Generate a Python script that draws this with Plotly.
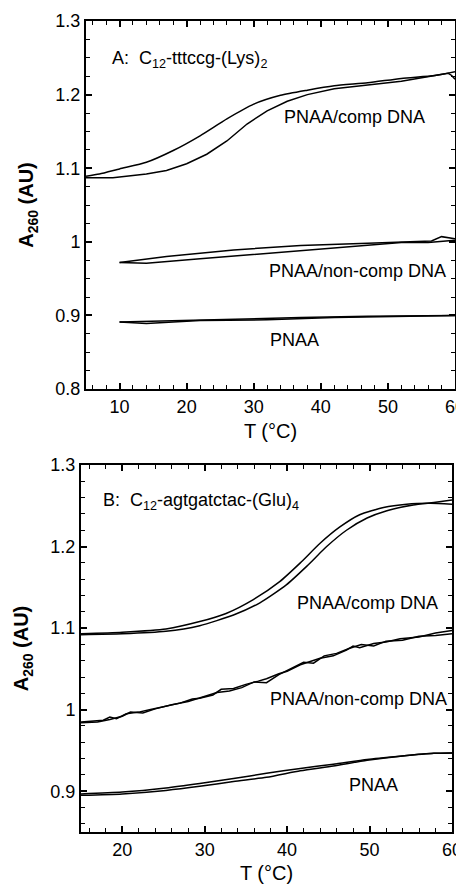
import plotly.graph_objects as go

# ---------------- Panel A data ----------------
a_comp1_x = [5, 7, 10, 14, 18, 22, 26, 30, 34, 38, 42, 47, 52, 57, 60]
a_comp1_y = [1.089, 1.092, 1.099, 1.108, 1.124, 1.144, 1.167, 1.187, 1.199, 1.206, 1.212, 1.216, 1.222, 1.226, 1.231]
a_comp2_x = [5, 9, 14, 17, 20, 23, 26, 29, 32, 35, 38, 42, 47, 52, 57, 59, 59.5, 60]
a_comp2_y = [1.087, 1.087, 1.092, 1.097, 1.106, 1.119, 1.137, 1.160, 1.178, 1.191, 1.200, 1.208, 1.213, 1.218, 1.226, 1.229, 1.226, 1.221]
a_non1_x = [10, 17, 27, 37, 47, 56.5, 58, 59, 60]
a_non1_y = [0.972, 0.980, 0.989, 0.995, 0.998, 1.001, 1.007, 1.005, 1.004]
a_non2_x = [10, 14, 22, 32, 42, 52, 56, 60]
a_non2_y = [0.972, 0.971, 0.977, 0.984, 0.991, 0.999, 0.999, 1.002]
a_pnaa1_x = [10, 14, 22, 32, 42, 47, 60]
a_pnaa1_y = [0.891, 0.889, 0.893, 0.894, 0.897, 0.898, 0.900]
a_pnaa2_x = [10, 18, 27, 37, 47, 60]
a_pnaa2_y = [0.891, 0.893, 0.895, 0.897, 0.899, 0.900]

# ---------------- Panel B data ----------------
b_comp1_x = [15, 20, 25.3, 29.4, 32.6, 35.9, 39.1, 41.6, 44, 46.4, 48.8, 51.7, 54.5, 57.4, 60]
b_comp1_y = [1.093, 1.095, 1.099, 1.108, 1.118, 1.135, 1.157, 1.180, 1.204, 1.224, 1.239, 1.248, 1.252, 1.253, 1.252]
b_comp2_x = [15, 20, 25.3, 29.4, 33.5, 36.7, 39.9, 42.4, 44.8, 47.2, 49.7, 52.1, 55.3, 57.8, 60]
b_comp2_y = [1.092, 1.093, 1.096, 1.103, 1.116, 1.131, 1.153, 1.176, 1.200, 1.220, 1.235, 1.244, 1.251, 1.254, 1.257]
b_non1_x = [15, 16.5, 17.7, 18.5, 19.3, 20.5, 22, 23.3, 25.3, 27, 28.5, 29.4, 31, 32, 33.5, 35, 36.5, 37.5,
            39, 40, 41.6, 43, 44, 45.6, 47.2, 48, 48.8, 50.5, 52, 53.7, 56, 58, 60]
b_non1_y = [0.985, 0.986, 0.987, 0.991, 0.989, 0.995, 0.997, 1.000, 1.004, 1.008, 1.013, 1.014, 1.018, 1.025,
            1.026, 1.031, 1.035, 1.038, 1.044, 1.047, 1.055, 1.060, 1.063, 1.066, 1.073, 1.078, 1.076, 1.081,
            1.083, 1.087, 1.089, 1.094, 1.097]
b_non2_x = [15, 17, 18.5, 20, 21, 22.5, 24, 26, 28, 30, 31.5, 33, 34.5, 36, 37.5, 39, 40.5, 42, 43.2, 44.5,
            46, 47.5, 49, 50.5, 52, 54, 56, 58, 60]
b_non2_y = [0.984, 0.985, 0.988, 0.992, 0.997, 0.996, 1.001, 1.006, 1.010, 1.016, 1.021, 1.023, 1.027, 1.034,
            1.033, 1.043, 1.050, 1.058, 1.057, 1.066, 1.069, 1.075, 1.080, 1.078, 1.084, 1.085, 1.090, 1.091, 1.093]
b_pnaa_x = [15, 20, 25.3, 29.4, 33.5, 37.5, 41.6, 45.6, 49.7, 53.7, 57.8, 60]
b_pnaa1_y = [0.8967, 0.899, 0.904, 0.9095, 0.9156, 0.922, 0.928, 0.933, 0.939, 0.943, 0.9465, 0.947]
b_pnaa2_y = [0.895, 0.8967, 0.901, 0.906, 0.912, 0.917, 0.925, 0.931, 0.938, 0.943, 0.9465, 0.947]

# tick positions (major) for each panel
a_xticks = [10, 20, 30, 40, 50, 60]
a_yticks = [0.8, 0.9, 1.0, 1.1, 1.2, 1.3]
b_xticks = [20, 30, 40, 50, 60]
b_yticks = [0.9, 1.0, 1.1, 1.2, 1.3]

FONT = "Liberation Sans, Arial, sans-serif"

fig = go.Figure()

def add(x, y, xa, ya, shape="spline"):
    line = dict(color="black", width=1.5, shape=shape)
    if shape == "spline":
        line["smoothing"] = 0.6
    fig.add_trace(go.Scatter(x=x, y=y, xaxis=xa, yaxis=ya, mode="lines", line=line,
                             showlegend=False, hoverinfo="skip"))

add(a_comp1_x, a_comp1_y, "x", "y")
add(a_comp2_x, a_comp2_y, "x", "y", "linear")
add(a_non1_x, a_non1_y, "x", "y", "linear")
add(a_non2_x, a_non2_y, "x", "y", "linear")
add(a_pnaa1_x, a_pnaa1_y, "x", "y", "linear")
add(a_pnaa2_x, a_pnaa2_y, "x", "y", "linear")

add(b_comp1_x, b_comp1_y, "x2", "y2")
add(b_comp2_x, b_comp2_y, "x2", "y2")
add(b_non1_x, b_non1_y, "x2", "y2", "linear")
add(b_non2_x, b_non2_y, "x2", "y2", "linear")
add(b_pnaa_x, b_pnaa1_y, "x2", "y2")
add(b_pnaa_x, b_pnaa2_y, "x2", "y2")

# page has an 8px body margin: figure occupies page (8..464, 8..884)
OFF = 8
W, H = 464 - OFF, 884 - OFF

def px_x(a, b):
    return [(a - OFF) / W, (b - OFF) / W]

def px_y(top, bottom):
    return [1 - (bottom - OFF) / H, 1 - (top - OFF) / H]

TITLE_FONT = dict(family=FONT, size=20, color="black")

fig.update_layout(
    template="plotly_white", width=W, height=H,
    margin=dict(l=0, r=0, t=0, b=0, autoexpand=False),
    paper_bgcolor="white", plot_bgcolor="white",
    xaxis=dict(domain=px_x(86, 455), range=[5, 60], anchor="y",
               tick0=a_xticks[0], dtick=a_xticks[1] - a_xticks[0],
               minor=dict(dtick=2),
               title=dict(text="T (°C)", font=TITLE_FONT, standoff=8)),
    yaxis=dict(domain=px_y(21, 389), range=[0.8, 1.3], anchor="x",
               tick0=a_yticks[0], dtick=round(a_yticks[1] - a_yticks[0], 6),
               minor=dict(dtick=0.025),
               title=dict(text="<b>A<sub>260</sub> (AU)</b>", font=TITLE_FONT, standoff=16)),
    xaxis2=dict(domain=px_x(81, 452), range=[15, 60], anchor="y2",
                tick0=b_xticks[0], dtick=b_xticks[1] - b_xticks[0],
                minor=dict(dtick=2),
                title=dict(text="T (°C)", font=TITLE_FONT, standoff=8)),
    yaxis2=dict(domain=px_y(465, 832), range=[0.85, 1.3], anchor="x2",
                tick0=b_yticks[0], dtick=round(b_yticks[1] - b_yticks[0], 6),
                minor=dict(dtick=0.02),
                title=dict(text="<b>A<sub>260</sub> (AU)</b>", font=TITLE_FONT, standoff=16)),
)

axis_style = dict(showgrid=False, zeroline=False, showline=True, linecolor="black", linewidth=2,
                  mirror="allticks", ticks="inside", ticklen=6, tickwidth=1.5, tickcolor="black",
                  ticklabeloverflow="allow",
                  tickfont=dict(family=FONT, size=18, color="black"))
minor_style = dict(ticks="inside", ticklen=4, tickcolor="black", tickwidth=1.2, showgrid=False)
fig.update_xaxes(**axis_style)
fig.update_yaxes(**axis_style)
fig.update_xaxes(minor=minor_style)
fig.update_yaxes(minor=minor_style)

nb = "\u00a0"
ann = [
    dict(x=8.6, y=1.248, xref="x", yref="y", text=f"A:{nb}{nb}C<sub>12</sub>-tttccg-(Lys)<sub>2</sub>", xanchor="left"),
    dict(x=45, y=1.169, xref="x", yref="y", text="PNAA/comp DNA"),
    dict(x=45.4, y=0.960, xref="x", yref="y", text="PNAA/non-comp DNA"),
    dict(x=36.1, y=0.866, xref="x", yref="y", text="PNAA"),
    dict(x=17.4, y=1.255, xref="x2", yref="y2", text=f"B:{nb}{nb}C<sub>12</sub>-agtgatctac-(Glu)<sub>4</sub>", xanchor="left"),
    dict(x=49.7, y=1.131, xref="x2", yref="y2", text="PNAA/comp DNA"),
    dict(x=48.6, y=1.013, xref="x2", yref="y2", text="PNAA/non-comp DNA"),
    dict(x=50.5, y=0.908, xref="x2", yref="y2", text="PNAA"),
]
for a in ann:
    a.setdefault("xanchor", "center")
    a.update(showarrow=False, yanchor="middle", font=dict(family=FONT, size=18, color="black"))
fig.update_layout(annotations=ann)

fig.write_html("out.html")
